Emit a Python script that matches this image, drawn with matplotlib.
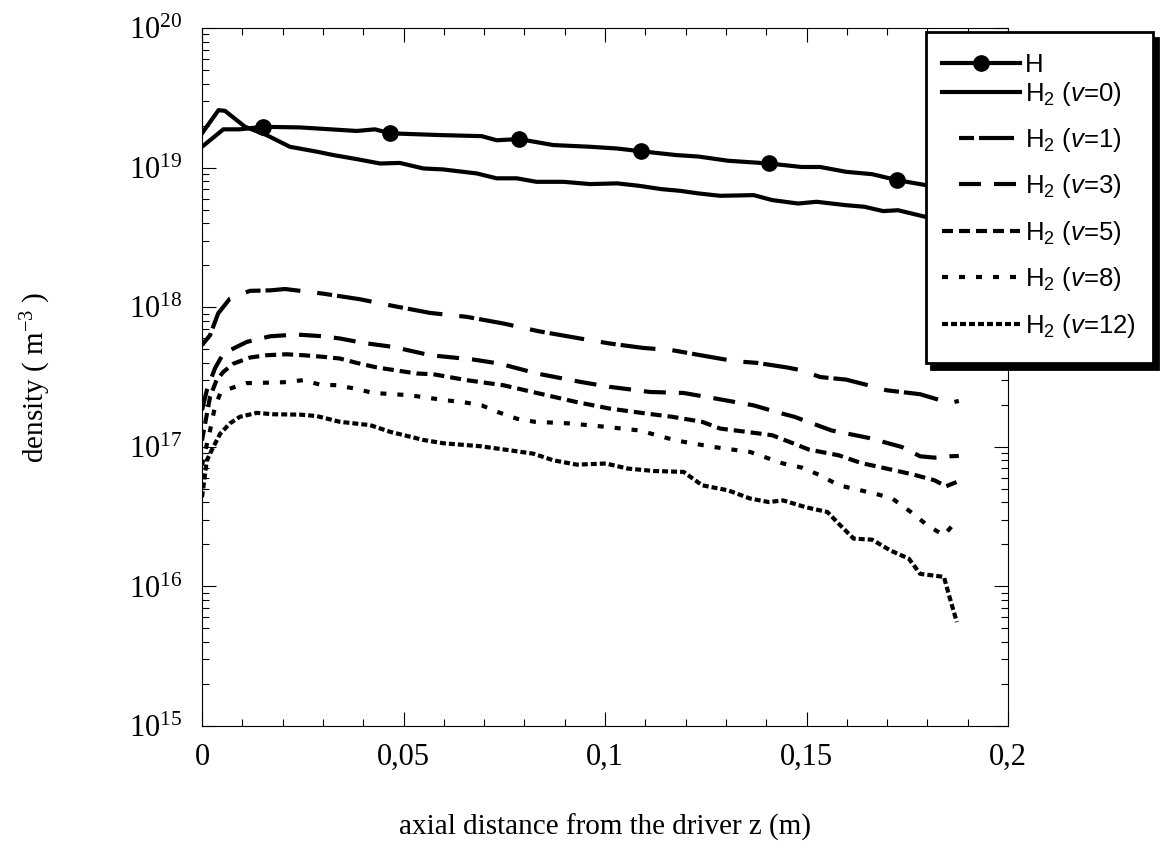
import numpy as np
import matplotlib
matplotlib.use("Agg")
import matplotlib.pyplot as plt
from matplotlib.ticker import FixedLocator, FuncFormatter, LogLocator, NullFormatter
from matplotlib.lines import Line2D
from matplotlib.patches import Rectangle

plt.rcParams['mathtext.fontset'] = 'custom'
plt.rcParams['mathtext.it'] = 'Liberation Sans:italic'
plt.rcParams['mathtext.rm'] = 'Liberation Sans'
plt.rcParams['lines.scale_dashes'] = False

# ---------------- data ----------------
x_H = [0, 0.002, 0.0053, 0.0094, 0.0151, 0.0243, 0.0384, 0.0429, 0.0467, 0.0591, 0.0694,
       0.0731, 0.0787, 0.0872, 0.0963, 0.103, 0.1089, 0.1176, 0.1232, 0.1305, 0.1407,
       0.1488, 0.1534, 0.1598, 0.1663, 0.1725, 0.1795, 0.188]
n_H = [1.41e19, 1.57e19, 1.88e19, 1.88e19, 1.96e19, 1.94e19, 1.83e19, 1.88e19, 1.76e19,
       1.71e19, 1.68e19, 1.57e19, 1.60e19, 1.45e19, 1.41e19, 1.37e19, 1.31e19, 1.23e19,
       1.20e19, 1.12e19, 1.07e19, 1.01e19, 1.01e19, 9.33e18, 8.97e18, 8.13e18, 7.50e18, 7.08e18]
x_H_markers = [0.0151, 0.0467, 0.0787, 0.1089, 0.1407, 0.1725]

x_v0 = [0, 0.0041, 0.0057, 0.0107, 0.016, 0.0218, 0.0285, 0.0326, 0.0384, 0.0442, 0.0491,
        0.0549, 0.0599, 0.0682, 0.0731, 0.0781, 0.083, 0.0897, 0.0963, 0.103, 0.1084,
        0.114, 0.1186, 0.1232, 0.1286, 0.1369, 0.1415, 0.1479, 0.1525, 0.1598, 0.1644,
        0.169, 0.1727, 0.1795, 0.188]
n_v0 = [1.76e19, 2.58e19, 2.55e19, 1.96e19, 1.71e19, 1.41e19, 1.30e19, 1.23e19, 1.15e19,
        1.07e19, 1.08e19, 9.86e18, 9.70e18, 9.08e18, 8.38e18, 8.38e18, 7.91e18, 7.91e18,
        7.62e18, 7.71e18, 7.41e18, 7.01e18, 6.82e18, 6.53e18, 6.28e18, 6.35e18, 5.85e18,
        5.53e18, 5.69e18, 5.38e18, 5.24e18, 4.88e18, 4.95e18, 4.44e18, 4.17e18]

x_v1 = [0, 0.002, 0.004, 0.0069, 0.0119, 0.0169, 0.0206, 0.0301, 0.0392, 0.0475, 0.0566,
        0.0657, 0.0748, 0.0835, 0.0938, 0.1011, 0.1094, 0.1167, 0.125, 0.1323, 0.1378,
        0.1452, 0.1488, 0.1534, 0.1598, 0.1653, 0.1699, 0.1782, 0.1855, 0.1878]
n_v1 = [5.35e17, 6.30e17, 9.02e17, 1.15e18, 1.31e18, 1.32e18, 1.35e18, 1.25e18, 1.14e18,
        1.02e18, 9.10e17, 8.53e17, 7.64e17, 6.73e17, 5.97e17, 5.50e17, 5.11e17, 4.92e17,
        4.46e17, 4.10e17, 3.99e17, 3.70e17, 3.53e17, 3.16e17, 3.03e17, 2.76e17, 2.54e17,
        2.38e17, 2.06e17, 2.13e17]

x_v3 = [0, 0.0012, 0.0032, 0.0053, 0.0111, 0.0169, 0.0235, 0.0301, 0.0342, 0.04, 0.0475,
        0.0566, 0.0673, 0.0739, 0.0831, 0.0938, 0.1011, 0.1112, 0.1195, 0.1277, 0.1369,
        0.1433, 0.147, 0.1562, 0.1653, 0.1736, 0.1782, 0.1818, 0.1855, 0.1878]
n_v3 = [1.83e17, 2.54e17, 3.64e17, 4.66e17, 5.64e17, 6.19e17, 6.37e17, 6.19e17, 5.97e17,
        5.55e17, 5.19e17, 4.53e17, 4.22e17, 3.94e17, 3.35e17, 2.92e17, 2.69e17, 2.47e17,
        2.43e17, 2.21e17, 1.98e17, 1.75e17, 1.64e17, 1.31e17, 1.16e17, 9.98e16, 8.55e16,
        8.36e16, 8.55e16, 8.60e16]

x_v5 = [0, 0.002, 0.0036, 0.0053, 0.0078, 0.0119, 0.0161, 0.021, 0.0251, 0.0301, 0.0342,
        0.0384, 0.0434, 0.0533, 0.0574, 0.0657, 0.0748, 0.0839, 0.093, 0.1011, 0.1103,
        0.1167, 0.1241, 0.1286, 0.1351, 0.1415, 0.147, 0.1506, 0.158, 0.1635, 0.1699,
        0.1763, 0.1818, 0.1846, 0.1873]
n_v5 = [1.11e17, 2.28e17, 3.00e17, 3.44e17, 3.94e17, 4.36e17, 4.53e17, 4.60e17, 4.53e17,
        4.41e17, 4.29e17, 3.99e17, 3.70e17, 3.35e17, 3.31e17, 3.00e17, 2.76e17, 2.40e17,
        2.09e17, 1.88e17, 1.73e17, 1.64e17, 1.51e17, 1.35e17, 1.28e17, 1.21e17, 1.05e17,
        9.55e16, 8.69e16, 7.66e16, 6.98e16, 6.35e16, 5.75e16, 5.21e16, 5.60e16]

x_v8 = [0, 0.002, 0.0032, 0.0045, 0.0069, 0.0111, 0.0161, 0.0202, 0.0251, 0.0293, 0.0334,
        0.038, 0.0425, 0.0516, 0.0607, 0.0648, 0.0694, 0.0735, 0.0781, 0.0826, 0.0913,
        0.1002, 0.1085, 0.1176, 0.1268, 0.136, 0.1442, 0.1488, 0.1534, 0.158, 0.1671,
        0.1713, 0.1759, 0.18, 0.1841, 0.1873]
n_v8 = [7.36e16, 1.31e17, 1.93e17, 2.40e17, 2.61e17, 2.86e17, 2.88e17, 2.90e17, 3.00e17,
        2.79e17, 2.76e17, 2.61e17, 2.43e17, 2.34e17, 2.15e17, 2.09e17, 1.98e17, 1.77e17,
        1.59e17, 1.51e17, 1.47e17, 1.39e17, 1.31e17, 1.11e17, 9.98e16, 9.18e16, 7.59e16,
        7.10e16, 6.25e16, 5.30e16, 4.61e16, 4.26e16, 3.41e16, 2.74e16, 2.32e16, 2.97e16]

x_v12 = [0, 0.0012, 0.0024, 0.0045, 0.0069, 0.0094, 0.0136, 0.0177, 0.0243, 0.0285, 0.0342,
         0.0417, 0.0467, 0.0549, 0.0599, 0.069, 0.0764, 0.0822, 0.0872, 0.093, 0.1002,
         0.1057, 0.1121, 0.1195, 0.1241, 0.1305, 0.136, 0.1406, 0.1442, 0.1497, 0.1552,
         0.158, 0.1617, 0.1663, 0.1708, 0.1754, 0.1782, 0.1841, 0.1855, 0.1873]
n_v12 = [4.35e16, 8.00e16, 9.44e16, 1.24e17, 1.47e17, 1.64e17, 1.75e17, 1.71e17, 1.70e17,
         1.66e17, 1.51e17, 1.43e17, 1.28e17, 1.12e17, 1.06e17, 1.01e17, 9.44e16, 8.93e16,
         8.00e16, 7.45e16, 7.59e16, 6.98e16, 6.71e16, 6.61e16, 5.30e16, 4.88e16, 4.26e16,
         4.02e16, 4.13e16, 3.70e16, 3.41e16, 2.81e16, 2.20e16, 2.16e16, 1.81e16, 1.58e16,
         1.23e16, 1.17e16, 8.38e15, 5.55e15]

labels = ['H', r'H$\mathregular{_2}$ ($\mathit{v}$=0)', r'H$\mathregular{_2}$ ($\mathit{v}$=1)',
          r'H$\mathregular{_2}$ ($\mathit{v}$=3)', r'H$\mathregular{_2}$ ($\mathit{v}$=5)',
          r'H$\mathregular{_2}$ ($\mathit{v}$=8)', r'H$\mathregular{_2}$ ($\mathit{v}$=12)']
x_ticks = [0, 0.05, 0.1, 0.15, 0.2]
x_ticklabels = ['0', '0,05', '0,1', '0,15', '0,2']
y_exponents = [15, 16, 17, 18, 19, 20]

# ---------------- figure ----------------
W, H = 1160, 855
fig = plt.figure(figsize=(W/100, H/100), dpi=100)
ax = fig.add_axes([202/W, 1-726/H, 806/W, 698/H])

PX = 0.72  # points per pixel at 100 dpi
lw = 3.0
styles = [
    dict(linestyle='-', marker='o', ms=11),
    dict(linestyle='-'),
    dict(linestyle=(0, (15*PX, 5*PX, 35*PX, 17*PX))),
    dict(linestyle=(0, (22*PX, 13*PX))),
    dict(linestyle=(0, (11*PX, 6*PX))),
    dict(linestyle=(0, (6*PX, 11*PX))),
    dict(linestyle=(0, (6*PX, 3*PX))),
]
series = [(x_H, n_H), (x_v0, n_v0), (x_v1, n_v1), (x_v3, n_v3),
          (x_v5, n_v5), (x_v8, n_v8), (x_v12, n_v12)]

mk_idx = [int(np.argmin(np.abs(np.array(x_H) - m))) for m in x_H_markers]
for i, ((xs, ys), st) in enumerate(zip(series, styles)):
    kw = dict(st)
    if i == 0:
        kw['markevery'] = mk_idx
    ax.plot(xs, ys, color='black', lw=lw, solid_joinstyle='round', label=labels[i], **kw)

ax.set_yscale('log')
ax.set_xlim(0, 0.2)
ax.set_ylim(1e15, 1e20)

ax.xaxis.set_major_locator(FixedLocator(x_ticks))
ax.xaxis.set_minor_locator(FixedLocator(np.round(np.arange(0, 0.2001, 0.01), 3)))
ax.set_xticklabels(x_ticklabels)
ax.yaxis.set_major_locator(FixedLocator([10.0**e for e in y_exponents]))
ax.yaxis.set_minor_locator(LogLocator(base=10, subs=np.arange(2, 10)))
ax.yaxis.set_minor_formatter(NullFormatter())
ax.yaxis.set_major_formatter(FuncFormatter(
    lambda v, p: r'$\mathregular{10^{%d}}$' % int(round(np.log10(v)))))

ax.tick_params(which='both', direction='in', top=True, right=True, width=0.8, color='black')
ax.tick_params(which='major', length=10)
ax.tick_params(which='minor', length=5)
ax.tick_params(axis='x', which='major', pad=12)
ax.tick_params(axis='y', which='major', pad=14)
for lab in ax.get_xticklabels() + ax.get_yticklabels():
    lab.set_fontfamily('Liberation Serif')
    lab.set_fontsize(22)
for sp in ax.spines.values():
    sp.set_linewidth(0.8)
    sp.set_color('black')

ax.set_xlabel('axial distance from the driver z (m)', fontfamily='Liberation Serif', fontsize=21)
ax.xaxis.set_label_coords(0.5, (726-814)/698)
ax.set_ylabel(r'density ( m$\mathregular{^{-3}}$ )', fontfamily='Liberation Serif', fontsize=21)
ax.yaxis.set_label_coords((53-202)/806, 0.5)

# ---------------- legend (boxed, with black drop shadow) ----------------
def fx(p):
    return p / W

def fy(p):
    return 1 - p / H

bx0, bx1, by0, by1 = 926, 1153, 32, 363
fig.add_artist(Rectangle((fx(bx0 + 5), fy(by1 + 6)), (bx1 - bx0)/W, (by1 - by0)/H,
                         transform=fig.transFigure, facecolor='black', edgecolor='black',
                         lw=2, zorder=19))
fig.add_artist(Rectangle((fx(bx0), fy(by1)), (bx1 - bx0)/W, (by1 - by0)/H,
                         transform=fig.transFigure, facecolor='white', edgecolor='black',
                         lw=2, zorder=20))
row_y = [63, 92, 138, 184, 231, 277, 324]
handle_x0 = [942, 942, 959, 959, 942, 942, 942]
for i, st in enumerate(styles):
    y = fy(row_y[i])
    kw = dict(st)
    if i == 0:
        xs = [fx(942), fx(981), fx(1020)]
        kw['markevery'] = [1]
    else:
        xs = [fx(handle_x0[i]), fx(1020)]
    ln = Line2D(xs, [y] * len(xs), transform=fig.transFigure, color='black', lw=lw,
                zorder=21, **kw)
    fig.add_artist(ln)
    fig.text(fx(1025), fy(row_y[i] + 9), labels[i], fontfamily='Liberation Sans',
             fontsize=18.5, va='baseline', ha='left', zorder=22)

fig.savefig('out.png', dpi=100)
